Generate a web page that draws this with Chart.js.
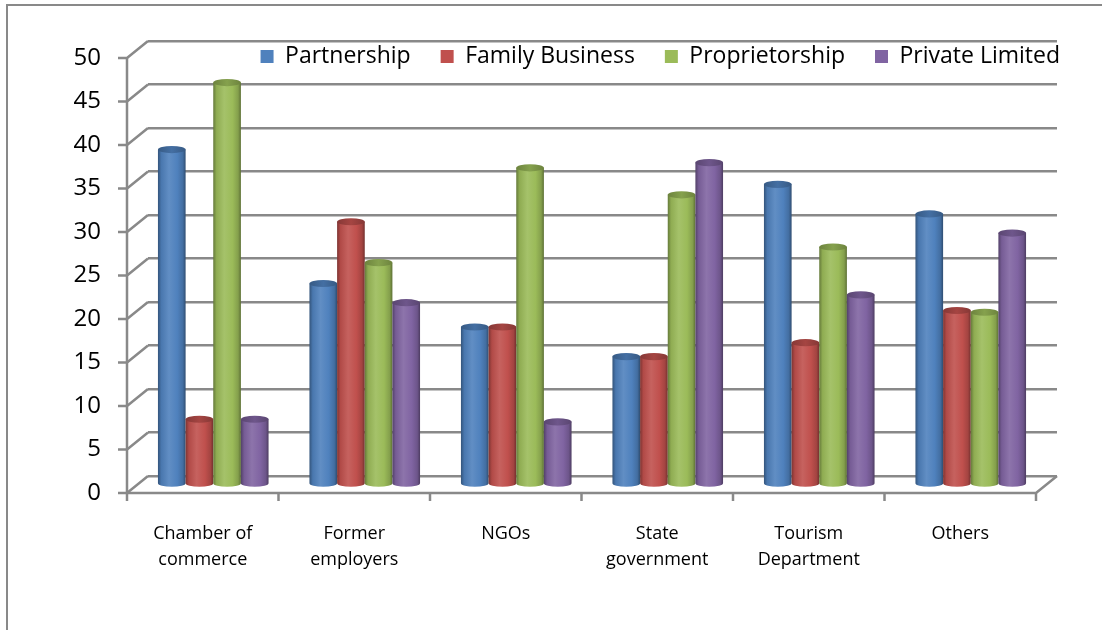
<!DOCTYPE html>
<html>
<head>
<meta charset="utf-8">
<title>Sources of support by business type</title>
<script src="https://cdn.jsdelivr.net/npm/chart.js@4.4.1/dist/chart.umd.min.js"></script>
<style>
  html, body { margin: 0; padding: 0; background: #fff; }
  canvas { display: block; }
</style>
</head>
<body>
<canvas id="supportChart" width="1102" height="630"></canvas>
<script>
// Categories and series values
const categories = [
    ['Chamber of', 'commerce'],
    ['Former', 'employers'],
    'NGOs',
    ['State', 'government'],
    ['Tourism', 'Department'],
    'Others'
];
const partnership    = [38.5, 23.1, 18.1, 14.7, 34.5, 31.1];
const familyBusiness = [7.5, 30.2, 18.1, 14.7, 16.3, 20.0];
const proprietorship = [46.2, 25.5, 36.4, 33.3, 27.3, 19.8];
const privateLimited = [7.5, 20.9, 7.2, 37.0, 21.8, 28.9];
const yMax = 50;
const yStep = 5;

const FONT = "'Open Sans', 'Noto Sans', sans-serif";
const AXIS_GREY = '#898989';

// 3D depth: the chart area is the back wall, the front edge sits down-left of it
const DEPTH_X = -21;
const DEPTH_Y = 17;

function shade(hex, amt) {
    const n = parseInt(hex.slice(1), 16);
    let r = (n >> 16) & 255, g = (n >> 8) & 255, b = n & 255;
    const t = amt < 0 ? 0 : 255;
    const p = Math.abs(amt);
    r = Math.round(r + (t - r) * p);
    g = Math.round(g + (t - g) * p);
    b = Math.round(b + (t - b) * p);
    return 'rgb(' + r + ',' + g + ',' + b + ')';
}

function drawCylinder(ctx, cx, top, bottom, w, color) {
    const rx = w / 2;
    const ry = w * 0.13;
    const left = cx - rx;
    const right = cx + rx;

    const body = ctx.createLinearGradient(left, 0, right, 0);
    body.addColorStop(0, shade(color, -0.35));
    body.addColorStop(0.12, shade(color, -0.08));
    body.addColorStop(0.4, shade(color, 0.1));
    body.addColorStop(0.7, color);
    body.addColorStop(0.9, shade(color, -0.15));
    body.addColorStop(1, shade(color, -0.4));

    ctx.fillStyle = body;
    ctx.beginPath();
    ctx.moveTo(left, top);
    ctx.lineTo(left, bottom);
    ctx.ellipse(cx, bottom, rx, ry, 0, Math.PI, 0, true);
    ctx.lineTo(right, top);
    ctx.closePath();
    ctx.fill();

    const cap = ctx.createLinearGradient(left, 0, right, 0);
    cap.addColorStop(0, shade(color, -0.3));
    cap.addColorStop(0.5, shade(color, -0.14));
    cap.addColorStop(1, shade(color, -0.3));
    ctx.fillStyle = cap;
    ctx.beginPath();
    ctx.ellipse(cx, top, rx, ry, 0, 0, Math.PI * 2);
    ctx.fill();
}

const depthPlugin = {
    id: 'depthFrame',
    beforeDraw(chart) {
        const ctx = chart.ctx;
        ctx.save();
        ctx.strokeStyle = AXIS_GREY;
        ctx.lineWidth = 2;
        ctx.strokeRect(7, 5, 1120, 650);
        ctx.restore();
    },
    afterLayout(chart) {
        // legend row floats over the top of the back wall
        const lg = chart.legend;
        const area = chart.chartArea;
        lg.top = area.top - 26;
        lg.bottom = lg.top + 70;
        lg.height = 70;
        lg.right = area.right + 33;
    },
    beforeDatasetsDraw(chart) {
        const ctx = chart.ctx;
        const area = chart.chartArea;
        const x = chart.scales.x;
        const y = chart.scales.y;
        const frontLeft = area.left + DEPTH_X;
        const frontRight = area.right + DEPTH_X;
        const frontBottom = area.bottom + DEPTH_Y;

        ctx.save();
        ctx.strokeStyle = AXIS_GREY;
        ctx.lineWidth = 2.5;
        ctx.lineCap = 'butt';

        // side wall diagonals and front tick marks
        y.ticks.forEach(t => {
            const py = y.getPixelForValue(t.value);
            ctx.beginPath();
            ctx.moveTo(area.left, py);
            ctx.lineTo(frontLeft, py + DEPTH_Y);
            ctx.moveTo(frontLeft - 9, py + DEPTH_Y);
            ctx.lineTo(frontLeft, py + DEPTH_Y);
            ctx.stroke();
        });

        // front vertical axis
        ctx.beginPath();
        ctx.moveTo(frontLeft, area.top + DEPTH_Y);
        ctx.lineTo(frontLeft, frontBottom);
        ctx.stroke();

        // floor front edge and right diagonal
        ctx.beginPath();
        ctx.moveTo(frontLeft, frontBottom);
        ctx.lineTo(frontRight, frontBottom);
        ctx.lineTo(area.right, area.bottom);
        ctx.stroke();

        // category separators on the floor front edge
        const step = x.getPixelForValue(1) - x.getPixelForValue(0);
        for (let i = 0; i <= categories.length; i++) {
            const px = x.getPixelForValue(i) - step / 2 + DEPTH_X;
            ctx.beginPath();
            ctx.moveTo(px, frontBottom);
            ctx.lineTo(px, frontBottom + 8);
            ctx.stroke();
        }

        // cylinders, placed halfway into the depth
        const dx = DEPTH_X / 2;
        const dy = DEPTH_Y / 2;
        chart.data.datasets.forEach((ds, di) => {
            const meta = chart.getDatasetMeta(di);
            meta.data.forEach(bar => {
                const p = bar.getProps(['x', 'y', 'base', 'width'], true);
                drawCylinder(ctx, p.x + dx, p.y + dy, p.base + dy, p.width, ds.backgroundColor);
            });
        });
        ctx.restore();
        return false;
    }
};

const ctx = document.getElementById('supportChart').getContext('2d');
new Chart(ctx, {
    type: 'bar',
    data: {
        labels: categories,
        datasets: [
            { label: 'Partnership', data: partnership, backgroundColor: '#4F81BD' },
            { label: 'Family Business', data: familyBusiness, backgroundColor: '#C0504D' },
            { label: 'Proprietorship', data: proprietorship, backgroundColor: '#9BBB59' },
            { label: 'Private Limited', data: privateLimited, backgroundColor: '#8064A2' }
        ]
    },
    options: {
        responsive: false,
        animation: false,
        events: [],
        datasets: {
            bar: { barPercentage: 1, categoryPercentage: 0.73, borderWidth: 0 }
        },
        layout: { padding: { top: 40, right: 45, left: 0, bottom: 0 } },
        plugins: {
            legend: {
                position: 'top',
                align: 'end',
                maxHeight: 1,
                labels: {
                    boxWidth: 13,
                    boxHeight: 13,
                    padding: 30,
                    color: '#000',
                    font: { family: FONT, size: 23 }
                }
            },
            tooltip: { enabled: false }
        },
        scales: {
            x: {
                grid: { display: false },
                border: { display: false },
                ticks: {
                    color: '#000',
                    font: { family: FONT, size: 18, lineHeight: 1.45 },
                    padding: 37,
                    labelOffset: DEPTH_X,
                    maxRotation: 0,
                    autoSkip: false
                },
                afterFit(scale) { scale.height = 154; }
            },
            y: {
                min: 0,
                max: yMax,
                grid: { color: AXIS_GREY, lineWidth: 2.5, drawTicks: false },
                border: { display: false },
                ticks: {
                    stepSize: yStep,
                    color: '#000',
                    font: { family: FONT, size: 24 },
                    padding: 47,
                    labelOffset: DEPTH_Y
                },
                afterFit(scale) {
                    scale.width = 148;
                    scale.paddingTop = 0;
                    scale.paddingBottom = 0;
                }
            }
        }
    },
    plugins: [depthPlugin]
});
</script>
</body>
</html>
